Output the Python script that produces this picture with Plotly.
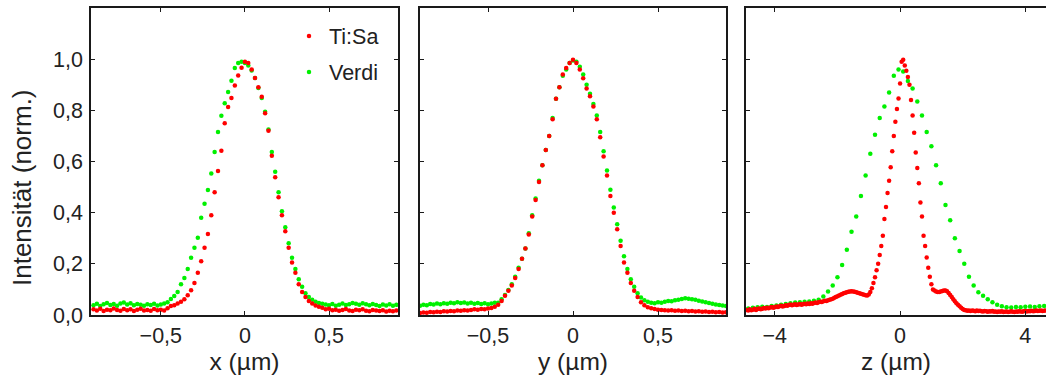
import numpy as np
import plotly.graph_objects as go

# ---------------- data ----------------
# lateral scan positions (µm)
pos_xy = np.round(np.arange(-0.90, 0.9001, 0.02), 2)

x_tisa = [0.022,0.018,0.024,0.016,0.021,0.019,0.025,0.020,0.017,0.023,0.019,0.022,0.016,0.021,0.024,0.018,0.020,0.017,0.023,0.019,0.021,0.018,0.026,
          0.035,0.038,0.045,0.052,0.062,0.077,0.097,0.125,0.165,0.210,0.263,0.317,0.390,0.480,0.563,0.642,0.750,0.813,0.848,0.897,0.936,0.966,
          0.990,
          0.985,0.960,0.926,0.890,0.853,0.789,0.720,0.622,0.538,0.460,0.390,0.327,0.263,0.205,0.165,0.120,0.090,0.070,0.055,0.045,0.037,0.032,
          0.028,0.022,0.024,0.019,0.021,0.017,0.020,0.023,0.018,0.016,0.021,0.019,0.022,0.017,0.015,0.020,0.018,0.016,0.019,0.014,0.017,0.015,0.018]
x_verdi = [0.038,0.044,0.035,0.042,0.047,0.039,0.043,0.036,0.045,0.049,0.041,0.046,0.038,0.043,0.040,0.036,0.042,0.039,0.044,0.037,0.041,
           0.045,0.050,0.063,0.074,0.090,0.120,0.145,0.180,0.224,0.263,0.302,0.380,0.435,0.489,0.553,0.637,0.715,0.779,0.828,0.872,0.916,0.965,0.985,0.990,
           0.985,
           0.975,0.956,0.926,0.887,0.848,0.794,0.725,0.637,0.560,0.480,0.406,0.343,0.280,0.224,0.180,0.140,0.110,0.085,0.070,0.060,0.052,0.047,
           0.044,0.041,0.038,0.043,0.036,0.040,0.045,0.039,0.042,0.047,0.044,0.040,0.046,0.042,0.038,0.043,0.039,0.035,0.041,0.037,0.042,0.036,0.040]

y_tisa = [0.008,0.010,0.009,0.012,0.011,0.013,0.012,0.015,0.014,0.016,0.015,0.018,0.017,0.019,0.018,0.020,0.022,0.021,0.023,0.022,0.025,0.027,0.032,
          0.040,0.055,0.075,0.095,0.115,0.145,0.180,0.220,0.260,0.315,0.385,0.450,0.520,0.585,0.645,0.700,0.765,0.845,0.890,0.940,0.965,0.985,
          0.998,
          0.985,0.960,0.925,0.885,0.855,0.815,0.765,0.695,0.620,0.545,0.465,0.400,0.335,0.270,0.205,0.165,0.125,0.095,0.070,0.050,0.038,0.030,
          0.026,0.023,0.021,0.020,0.019,0.018,0.019,0.017,0.018,0.016,0.017,0.015,0.016,0.014,0.015,0.013,0.014,0.012,0.013,0.011,0.012,0.010,0.011]
y_verdi = [0.036,0.040,0.038,0.043,0.041,0.045,0.042,0.046,0.044,0.048,0.046,0.050,0.047,0.049,0.045,0.048,0.044,0.047,0.043,0.046,0.042,0.045,0.048,
           0.048,0.062,0.078,0.098,0.120,0.150,0.185,0.220,0.260,0.320,0.390,0.455,0.525,0.585,0.645,0.700,0.770,0.845,0.890,0.935,0.960,0.985,
           0.995,
           0.990,0.970,0.940,0.900,0.865,0.825,0.780,0.715,0.640,0.565,0.490,0.420,0.355,0.290,0.230,0.180,0.140,0.110,0.085,0.068,0.058,0.052,
           0.048,0.046,0.050,0.048,0.052,0.055,0.054,0.058,0.060,0.063,0.065,0.064,0.062,0.060,0.056,0.053,0.050,0.047,0.044,0.041,0.039,0.037,0.035]

# axial scan positions (µm)
pos_z_tisa = np.round(np.arange(-4.90, 4.6501, 0.05), 2)
pos_z_verdi = np.round(np.arange(-4.85, 4.6001, 0.15), 2)

z_tisa = [0.020,0.018,0.022,0.019,0.021,0.024,0.020,0.023,0.025,0.022,0.024,0.027,0.025,0.028,0.026,0.029,0.031,0.028,0.030,0.033,
          0.031,0.034,0.036,0.033,0.035,0.038,0.036,0.039,0.041,0.038,0.040,0.042,0.039,0.041,0.043,0.040,0.042,0.044,0.042,0.045,
          0.043,0.046,0.044,0.047,0.049,0.047,0.050,0.052,0.051,
          0.054,0.056,0.055,0.058,0.060,0.062,0.064,0.067,0.070,0.073,0.076,0.079,0.082,0.085,0.087,0.089,0.091,0.092,0.093,0.092,
          0.091,0.089,0.087,0.085,0.083,0.081,0.079,0.077,0.076,0.080,
          0.090,0.105,0.125,0.148,0.175,0.200,0.235,0.270,0.310,0.375,0.422,0.477,0.525,0.578,0.640,0.700,0.755,0.805,0.846,0.905,
          0.990,0.998,0.975,0.955,0.930,0.900,0.840,0.780,0.712,0.635,0.575,0.515,0.440,0.385,0.310,0.270,0.225,0.185,0.150,0.120,
          0.100,0.096,0.092,0.090,0.090,0.092,0.094,0.096,0.096,0.093,0.086,0.078,0.070,0.062,0.054,0.046,0.040,0.034,0.028,0.023,0.020,
          0.019,0.017,0.018,0.016,0.018,0.017,0.015,0.018,0.016,0.017,0.015,0.014,0.016,0.015,0.013,0.015,0.014,0.016,0.013,0.014,
          0.012,0.014,0.013,0.015,0.012,0.013,0.014,0.012,0.013,0.015,0.013,0.012,0.014,0.013,0.015,0.014,0.013,0.015,0.016,0.014,
          0.016,0.015,0.017,0.015,0.016,0.018,0.016,0.017,0.018,0.016,0.017,0.018]
z_verdi = [0.025,0.028,0.030,0.032,0.031,0.035,0.037,0.040,0.043,0.046,0.049,0.050,0.052,0.053,0.056,0.060,0.072,0.092,0.115,0.148,
           0.195,0.255,0.325,0.385,0.465,0.545,0.630,0.705,0.770,0.815,0.870,0.935,0.960,0.952,0.915,0.885,0.835,0.780,0.715,0.660,
           0.585,0.515,0.430,0.370,0.300,0.250,0.200,0.150,0.115,0.089,0.075,0.062,0.050,0.040,0.034,0.030,0.029,0.031,0.030,0.032,
           0.033,0.031,0.034,0.035]

y_ticks = [0.0, 0.2, 0.4, 0.6, 0.8, 1.0]
y_title = "Intensität (norm.)"

RED = "#ff0000"
GREEN = "#00f000"
FONT = "Liberation Sans, Arial, sans-serif"
TXT = "#222222"

fig = go.Figure()

def add(xs, ys, color, name, xa, ya, legend=None, show=False):
    fig.add_trace(go.Scatter(x=xs, y=ys, mode="markers", name=name,
                             marker=dict(color=color, size=4.5, line=dict(width=0)),
                             xaxis=xa, yaxis=ya, showlegend=show,
                             legend=legend if legend else "legend"))

add(pos_xy, x_verdi, GREEN, "Verdi", "x", "y", "legend2", True)
add(pos_xy, x_tisa, RED, "Ti:Sa", "x", "y", "legend", True)
add(pos_xy, y_verdi, GREEN, "Verdi", "x2", "y2")
add(pos_xy, y_tisa, RED, "Ti:Sa", "x2", "y2")
add(pos_z_verdi, z_verdi, GREEN, "Verdi", "x3", "y3")
add(pos_z_tisa, z_tisa, RED, "Ti:Sa", "x3", "y3")

W, H = 1046, 380
L, R, T, B = 91, 0, 8, 65
pw = W - L - R
ph = H - T - B

def dom(a, b):
    return [(a - L) / pw, (b - L) / pw]

TICKSZ = 21.5
TITLESZ = 24.5

axcommon = dict(showline=True, linecolor="#1a1a1a", linewidth=1.6, ticks="inside",
                ticklen=4, tickwidth=1, tickcolor="#1a1a1a", showgrid=False, zeroline=False,
                tickfont=dict(family=FONT, size=TICKSZ, color=TXT))

xtitle_font = dict(family=FONT, size=TITLESZ, color=TXT)

fig.update_layout(
    width=W, height=H, margin=dict(l=L, r=R, t=T, b=B),
    paper_bgcolor="white", plot_bgcolor="white", separators=",.",
    font=dict(family=FONT, color=TXT),
    xaxis=dict(domain=dom(91, 398), range=[-0.915, 0.91], tickvals=[-0.5, 0, 0.5],
               mirror="ticks", title=dict(text="x (µm)", standoff=1, font=xtitle_font),
               anchor="y", **axcommon),
    yaxis=dict(domain=[0, 1], range=[0, 1.2], tickvals=y_ticks, tickformat=".1f",
               mirror="ticks", ticklabelstandoff=2, anchor="x", **axcommon),
    xaxis2=dict(domain=dom(420, 726), range=[-0.9, 0.9], tickvals=[-0.5, 0, 0.5],
                mirror="ticks", title=dict(text="y (µm)", standoff=1, font=xtitle_font),
                anchor="y2", **axcommon),
    yaxis2=dict(domain=[0, 1], range=[0, 1.2], tickvals=y_ticks, showticklabels=False,
                mirror="ticks", anchor="x2", **axcommon),
    xaxis3=dict(domain=dom(746, 1046), range=[-4.92, 4.66], tickvals=[-4, 0, 4],
                mirror="ticks", title=dict(text="z (µm)", standoff=1, font=xtitle_font),
                anchor="y3", **axcommon),
    yaxis3=dict(domain=[0, 1], range=[0, 1.2], tickvals=y_ticks, showticklabels=False,
                mirror=False, anchor="x3", **axcommon),
    legend=dict(x=(289 - L) / pw, xanchor="left", y=(H - B - 36) / ph, yanchor="middle",
                bgcolor="rgba(0,0,0,0)", font=dict(family=FONT, size=TICKSZ, color=TXT)),
    legend2=dict(x=(289 - L) / pw, xanchor="left", y=(H - B - 72) / ph, yanchor="middle",
                 bgcolor="rgba(0,0,0,0)", font=dict(family=FONT, size=TICKSZ, color=TXT)),
    annotations=[dict(text=y_title, textangle=-90, showarrow=False,
                      xref="paper", yref="paper", x=(22 - L) / pw, y=(H - B - 188) / ph,
                      xanchor="center", yanchor="middle",
                      font=dict(family=FONT, size=26, color=TXT))],
)

fig.write_html("out.html")
